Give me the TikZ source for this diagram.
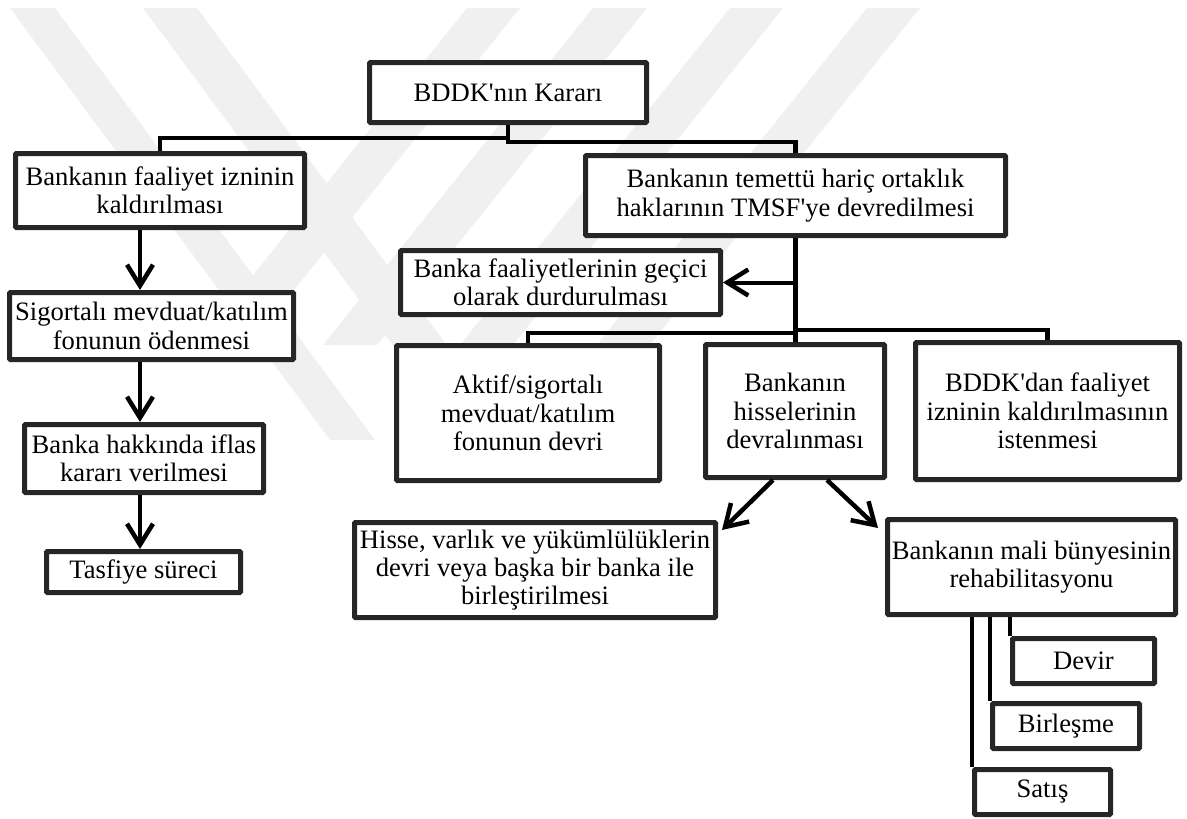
\documentclass[tikz,border=0pt]{standalone}
\usepackage{fontspec}
\newfontfamily\tnr{Liberation Serif}
\usetikzlibrary{arrows.meta,calc}
\begin{document}
\begin{tikzpicture}[x=1pt,y=-1pt,
  box/.style={draw=black!85, line width=5pt, rounded corners=1pt, fill=white,
    align=center, inner sep=0pt, font=\tnr\fontsize{26.6}{28.3}\selectfont},
  conn/.style={line width=4.5pt, black},
  arr/.style={line width=4.5pt, black, -{Straight Barb[length=21pt,width=26pt,line width=4.5pt]}},
  wm/.style={fill=black!6, draw=none}]
\useasboundingbox (0,0) rectangle (1187,819);
% faint watermark
\fill[wm] (10,8) -- (55,8) -- (375,440) -- (330,440) -- cycle;
\fill[wm] (143,8) -- (197,8) -- (517,440) -- (463,440) -- cycle;
\fill[wm] (467,8) -- (520,8) -- (250,345) -- (197,345) -- cycle;
\fill[wm] (593,8) -- (647,8) -- (377,345) -- (323,345) -- cycle;
\fill[wm] (730,8) -- (783,8) -- (513,345) -- (460,345) -- cycle;
\fill[wm] (867,8) -- (920,8) -- (650,345) -- (597,345) -- cycle;

% nodes
\node[box, minimum width=289, minimum height=74] (b1) at (160,190.5) {Bankanın faaliyet izninin\\kaldırılması};
\node[box, minimum width=277, minimum height=60] (bddk) at (508,92.5) {BDDK'nın Kararı};
\node[box, minimum width=284, minimum height=67] (b2) at (151.5,326) {Sigortalı mevduat/katılım\\fonunun ödenmesi};
\node[box, minimum width=239, minimum height=68] (b3) at (144,458.5) {Banka hakkında iflas\\kararı verilmesi};
\node[box, minimum width=194, minimum height=41] (b4) at (143.5,572) {Tasfiye süreci};
\node[box, minimum width=420, minimum height=80] (b5) at (795.5,195.5) {Bankanın temettü hariç ortaklık\\haklarının TMSF'ye devredilmesi};
\node[box, minimum width=320, minimum height=64] (b6) at (560.5,282.5) {Banka faaliyetlerinin geçici\\olarak durdurulması};
\node[box, minimum width=263, minimum height=135] (b7) at (528,413) {Aktif/sigortalı\\mevduat/katılım\\fonunun devri};
\node[box, minimum width=179, minimum height=133] (b8) at (795,411) {Bankanın\\hisselerinin\\devralınması};
\node[box, minimum width=264, minimum height=137] (b9) at (1047.5,411) {BDDK'dan faaliyet\\izninin kaldırılmasının\\istenmesi};
\node[box, minimum width=361, minimum height=95] (b10) at (535,570) {Hisse, varlık ve yükümlülüklerin\\devri veya başka bir banka ile\\birleştirilmesi};
\node[box, minimum width=288, minimum height=95] (b11) at (1031.5,567) {Bankanın mali bünyesinin\\rehabilitasyonu};
\node[box, minimum width=142, minimum height=45] (devir) at (1083.5,661) {Devir};
\node[box, minimum width=147, minimum height=45] (birl) at (1066,726) {Birleşme};
\node[box, minimum width=136, minimum height=45] (satis) at (1042.5,792) {Satış};

\coordinate (ax) at (140,0);

% connectors
\draw[conn] (bddk.south) -- ++(0,13) -| (b1.north);
\draw[conn] (bddk.south) -- ++(0,17) -| (b5.north);
\draw[arr] (b1.south -| ax) -- (b2.north -| ax);
\draw[arr] (b2.south -| ax) -- (b3.north -| ax);
\draw[arr] (b3.south -| ax) -- (b4.north -| ax);

\draw[conn] (b5.south) -- (b5.south |- b8.north);
\draw[conn] (b5.south) -- ++(0,95) -| (b7.north);
\draw[conn] (b5.south) -- ++(0,92) -| (b9.north);
\draw[arr, line width=4pt] (b5.south |- b6.east) -- (b6.east);

\draw[arr] ($(b8.south)+(-22,0)$) -- ($(b10.north east)+(4,10)$);
\draw[arr] ($(b8.south)+(32,0)$) -- ($(b11.north west)+(-7,11)$);

\draw[conn] (b11.south -| devir.west) -- (devir.north west);
\draw[conn] (b11.south -| birl.west) -- (birl.north west);
\draw[conn] (b11.south -| satis.west) -- (satis.north west);
\end{tikzpicture}
\end{document}
